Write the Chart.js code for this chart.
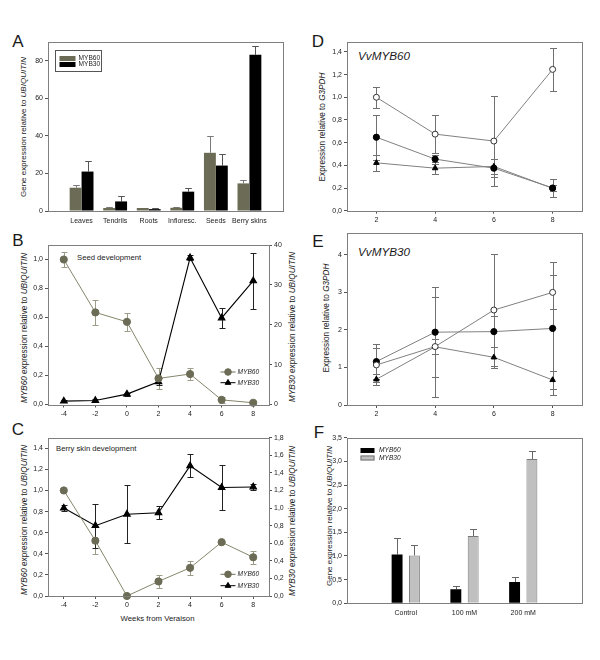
<!DOCTYPE html>
<html>
<head>
<meta charset="utf-8">
<title>MYB60 / MYB30 expression</title>
<script src="https://cdn.jsdelivr.net/npm/chart.js@4.4.1/dist/chart.umd.min.js"></script>
<style>
  body { margin: 0; background: #fff; }
  #page { position: relative; width: 600px; height: 660px; overflow: hidden; font-family: "Liberation Sans", Arial, sans-serif; color: #1a1a1a; }
  #page canvas { position: absolute; }
  .t { position: absolute; white-space: nowrap; line-height: 1; transform: translate(-50%, -50%); }
  .tl { position: absolute; white-space: nowrap; line-height: 1; transform: translate(0, -50%); }
  .letter { font-size: 17px; }
  .yt { position: absolute; white-space: nowrap; line-height: 1; font-size: 8.2px; transform: translate(-50%, -50%) rotate(-90deg); }
</style>
</head>
<body>
<div id="page">
  <!-- panel letters -->
  <div class="t letter" style="left:18px;top:41px">A</div>
  <div class="t letter" style="left:18px;top:240px">B</div>
  <div class="t letter" style="left:18px;top:429px">C</div>
  <div class="t letter" style="left:318px;top:41px">D</div>
  <div class="t letter" style="left:318px;top:241px">E</div>
  <div class="t letter" style="left:319px;top:432px">F</div>

  <!-- axis titles -->
  <div class="yt" style="left:24px;top:127px;font-size:8px">Gene expression relative to <i>UBIQUITIN</i></div>
  <div class="yt" style="left:25px;top:328px"><i>MYB60</i> expression relative to <i>UBIQUITIN</i></div>
  <div class="yt" style="left:293px;top:327px"><i>MYB30</i> expression relative to <i>UBIQUITIN</i></div>
  <div class="yt" style="left:25px;top:520px"><i>MYB60</i> expression relative to <i>UBIQUITIN</i></div>
  <div class="yt" style="left:293px;top:521px"><i>MYB30</i> expression relative to <i>UBIQUITIN</i></div>
  <div class="yt" style="left:322.5px;top:127px">Expression relative to <i>G3PDH</i></div>
  <div class="yt" style="left:327px;top:318px">Expression relative to <i>G3PDH</i></div>
  <div class="yt" style="left:330px;top:516px;font-size:8px">Gene expression relative to <i>UBIQUITIN</i></div>
  <div class="t" style="left:157.5px;top:619px;font-size:7.8px">Weeks from Veraison</div>

  <!-- notes inside plots -->
  <div class="tl" style="left:77px;top:257.7px;font-size:7.7px">Seed development</div>
  <div class="tl" style="left:56px;top:449px;font-size:7.7px">Berry skin development</div>
  <div class="tl" style="left:358px;top:55.7px;font-size:11.7px;font-style:italic">VvMYB60</div>
  <div class="tl" style="left:358px;top:251.7px;font-size:11.7px;font-style:italic">VvMYB30</div>
</div>
<script>
var FONT = '"Liberation Sans", Arial, sans-serif';
var OLIVE = '#6c6c56';

// A: tissues
var tissues = ['Leaves', 'Tendrils', 'Roots', 'Infloresc.', 'Seeds', 'Berry skins'];
var aMyb60 = [12.4, 1.6, 1.6, 1.7, 31, 14.7];
var aMyb60Err = [1.6, 0.5, 0.2, 0.4, 8.8, 1.9];
var aMyb30 = [21, 5.1, 1.0, 10.3, 24.2, 83.2];
var aMyb30Err = [5.7, 3.0, 0.4, 2.1, 6.0, 4.8];
var aTicks = [0, 20, 40, 60, 80];

// B and C: weeks from veraison
var weeks = [-4, -2, 0, 2, 4, 6, 8];
var bMyb60 = [1.0, 0.635, 0.57, 0.18, 0.21, 0.032, 0.012];
var bMyb60Err = [0.05, 0.087, 0.06, 0.07, 0.044, 0.022, 0.005];
var bMyb30 = [0.85, 1.0, 2.6, 5.7, 36.8, 21.7, 31.0];
var bMyb30Err = [0.3, 0.3, 0.4, 0.9, 0.6, 2.6, 7.1];
var bLeftTicks = [0, 0.2, 0.4, 0.6, 0.8, 1.0];
var bRightTicks = [0, 10, 20, 30, 40];

var cMyb60 = [1.0, 0.524, 0.0, 0.138, 0.267, 0.51, 0.367];
var cMyb60Err = [0, 0.13, 0, 0.062, 0.066, 0.012, 0.062];
var cMyb30 = [1.0, 0.80, 0.93, 0.947, 1.48, 1.234, 1.24];
var cMyb30Err = [0.03, 0.25, 0.33, 0.076, 0.13, 0.26, 0.033];
var cLeftTicks = [0, 0.2, 0.4, 0.6, 0.8, 1.0, 1.2, 1.4];
var cRightTicks = [0, 0.2, 0.4, 0.6, 0.8, 1.0, 1.2, 1.4, 1.6, 1.8];

// D and E: three treatments over weeks 2-8
var dWeeks = [2, 4, 6, 8];
var dOpen = [1.0, 0.675, 0.614, 1.246];
var dOpenErr = [0.093, 0.165, 0.40, 0.19];
var dFilled = [0.648, 0.455, 0.375, 0.2];
var dFilledErr = [0.2, 0.04, 0.08, 0.08];
var dTri = [0.422, 0.375, 0.39, 0.198];
var dTriErr = [0.07, 0.05, 0.065, 0.025];
var dTicks = [0, 0.2, 0.4, 0.6, 0.8, 1.0, 1.2, 1.4];

var eOpen = [1.067, 1.556, 2.53, 3.0];
var eOpenErr = [0.45, 1.33, 1.49, 0.45];
var eFilled = [1.156, 1.94, 1.955, 2.04];
var eFilledErr = [0.47, 1.2, 0.42, 1.77];
var eTri = [0.684, 1.55, 1.27, 0.667];
var eTriErr = [0.15, 0.2, 0.28, 0.23];
var eTicks = [0, 1, 2, 3, 4];

// F: salt treatment
var treatments = ['Control', '100 mM', '200 mM'];
var fMyb60 = [1.03, 0.295, 0.45];
var fMyb60Err = [0.34, 0.07, 0.105];
var fMyb30 = [1.01, 1.42, 3.05];
var fMyb30Err = [0.23, 0.15, 0.17];
var fTicks = [0, 0.5, 1.0, 1.5, 2.0, 2.5, 3.0, 3.5];

Chart.defaults.font.family = FONT;
Chart.defaults.color = '#222';
Chart.defaults.animation = false;
Chart.defaults.plugins.legend.display = false;
Chart.defaults.plugins.tooltip.enabled = false;

function fmt1(v) { return v.toFixed(1).replace('.', ','); }
function fmt0(v) { return String(v); }

function pts(xs, ys) {
    return xs.map(function (x, i) { return { x: x, y: ys[i] }; });
}

function makeCanvas(left, top, w, h) {
    var c = document.createElement('canvas');
    c.width = w; c.height = h;
    c.style.left = left + 'px'; c.style.top = top + 'px';
    c.style.width = w + 'px'; c.style.height = h + 'px';
    document.getElementById('page').appendChild(c);
    return c;
}

// value axis with a fixed width so the plot box lands where it should
function valueAxis(pos, min, max, ticks, fmt, width) {
    return {
        type: 'linear', position: pos, min: min, max: max,
        afterBuildTicks: function (axis) { axis.ticks = ticks.map(function (v) { return { value: v }; }); },
        afterFit: function (axis) { axis.width = width; },
        grid: { drawOnChartArea: false, tickLength: 3, color: '#555' },
        border: { display: false },
        ticks: { font: { size: 7 }, color: '#222', padding: 2, callback: fmt }
    };
}

// numeric x axis (weeks)
function weekAxis(min, max, ticks, height) {
    return {
        type: 'linear', position: 'bottom', min: min, max: max,
        afterBuildTicks: function (axis) { axis.ticks = ticks.map(function (v) { return { value: v }; }); },
        afterFit: function (axis) { axis.height = height; },
        grid: { drawOnChartArea: false, tickLength: 3, color: '#555' },
        border: { display: false },
        ticks: { font: { size: 7 }, color: '#222', padding: 2, autoSkip: false, maxRotation: 0, callback: fmt0 }
    };
}

// named groups on a linear axis, group i sits at i+1
function nameAxis(max, names, height) {
    return {
        type: 'linear', position: 'bottom', min: 0, max: max, offset: false,
        afterBuildTicks: function (axis) { axis.ticks = names.map(function (n, i) { return { value: i + 1 }; }); },
        afterFit: function (axis) { axis.height = height; },
        grid: { drawOnChartArea: false, drawTicks: false },
        border: { display: false },
        ticks: { font: { size: 7 }, color: '#222', padding: 5.5, autoSkip: false, maxRotation: 0,
            callback: function (v) { return names[v - 1]; } }
    };
}

// draws the error whiskers of every dataset that has an errors array
var errorBars = {
    id: 'errorBars',
    beforeDatasetsDraw: function (chart) {
        var ctx = chart.ctx;
        chart.data.datasets.forEach(function (ds, i) {
            if (!ds.errors) return;
            var meta = chart.getDatasetMeta(i);
            var ys = chart.scales[meta.yAxisID];
            var cap = ds.errCap || 3;
            ctx.save();
            ctx.strokeStyle = ds.errColor || '#666';
            ctx.lineWidth = 1;
            meta.data.forEach(function (el, j) {
                var v = ds.data[j].y, e = ds.errors[j];
                if (!e) return;
                var x = Math.round(el.x) + 0.5;
                var top = Math.round(ys.getPixelForValue(v + e)) + 0.5;
                var bot = ds.errUp ? ys.getPixelForValue(v) : Math.round(ys.getPixelForValue(v - e)) + 0.5;
                ctx.beginPath();
                ctx.moveTo(x, top); ctx.lineTo(x, bot);
                ctx.moveTo(x - cap, top); ctx.lineTo(x + cap, top);
                if (!ds.errUp) { ctx.moveTo(x - cap, bot); ctx.lineTo(x + cap, bot); }
                ctx.stroke();
            });
            ctx.restore();
        });
    }
};

// plot frame and the small legends, legend positions given in page pixels
var decor = {
    id: 'decor',
    afterDraw: function (chart, args, o) {
        var ctx = chart.ctx, a = chart.chartArea;
        var ox = o.off[0], oy = o.off[1];
        ctx.save();
        ctx.strokeStyle = '#7f7f7f';
        ctx.lineWidth = 1;
        ctx.strokeRect(Math.round(a.left) + 0.5, Math.round(a.top) + 0.5,
            Math.round(a.right) - Math.round(a.left), Math.round(a.bottom) - Math.round(a.top));
        if (o.box) {
            ctx.strokeStyle = '#555';
            ctx.strokeRect(Math.round(o.box[0] - ox) + 0.5, Math.round(o.box[1] - oy) + 0.5, o.box[2], o.box[3]);
        }
        (o.items || []).forEach(function (it) {
            var x = it.x - ox, y = it.y - oy;
            if (it.kind === 'rect') {
                ctx.fillStyle = it.color;
                ctx.fillRect(x, y - 2.5, it.w, 5);
                if (it.stroke) {
                    ctx.strokeStyle = it.stroke; ctx.lineWidth = 1;
                    ctx.strokeRect(x + 0.5, y - 2, it.w - 1, 4);
                }
            } else {
                ctx.strokeStyle = it.color; ctx.lineWidth = 1;
                ctx.beginPath(); ctx.moveTo(x, y); ctx.lineTo(x + it.w, y); ctx.stroke();
                ctx.fillStyle = it.color;
                Chart.helpers.drawPoint(ctx, { pointStyle: it.marker, radius: 3.3, rotation: 0, borderWidth: 1 }, x + it.w / 2, y);
            }
            ctx.fillStyle = '#222';
            ctx.font = (it.italic ? 'italic ' : '') + '6.6px ' + FONT;
            ctx.textBaseline = 'middle';
            ctx.textAlign = 'left';
            ctx.fillText(it.text, it.tx - ox, y);
        });
        ctx.restore();
    }
};

var base = { responsive: false, devicePixelRatio: 1 };

// ---- A ----
new Chart(makeCanvas(0, 28, 300, 200), {
    type: 'bar',
    data: { datasets: [
        { label: 'MYB60', data: pts(tissues.map(function (t, i) { return i + 1; }), aMyb60), backgroundColor: OLIVE,
          errors: aMyb60Err, errUp: true, errColor: '#7a7a7a', errCap: 3.3 },
        { label: 'MYB30', data: pts(tissues.map(function (t, i) { return i + 1; }), aMyb30), backgroundColor: '#000',
          errors: aMyb30Err, errUp: true, errColor: '#555', errCap: 3.3 }
    ] },
    options: Object.assign({}, base, {
        layout: { padding: { top: 14, right: 17 } },
        datasets: { bar: { categoryPercentage: 0.71, barPercentage: 1 } },
        scales: { x: nameAxis(7, tissues, 17), y: valueAxis('left', 0, 90, aTicks, fmt0, 48) },
        plugins: { decor: { off: [0, 28], box: [55, 49.5, 46, 21],
            items: [
                { kind: 'rect', x: 59.5, y: 58.5, w: 16, color: OLIVE, text: 'MYB60', tx: 78.5 },
                { kind: 'rect', x: 59.5, y: 64.5, w: 16, color: '#000', text: 'MYB30', tx: 78.5 }
            ] } }
    }),
    plugins: [errorBars, decor]
});

// line chart for B and C (two y axes)
function devChart(top, h, padTop, xHeight, m60, m60e, m30, m30e, lMax, lTicks, rMax, rTicks, rFmt, legendY) {
    new Chart(makeCanvas(0, top, 300, h), {
        type: 'line',
        data: { datasets: [
            { label: 'MYB60', data: pts(weeks, m60), yAxisID: 'y', borderColor: '#85856b', borderWidth: 1,
              pointStyle: 'circle', pointRadius: 3.6, pointBackgroundColor: OLIVE, pointBorderColor: OLIVE,
              clip: false, errors: m60e, errColor: '#9c9c88' },
            { label: 'MYB30', data: pts(weeks, m30), yAxisID: 'y1', borderColor: '#000', borderWidth: 1.1,
              pointStyle: 'triangle', pointRadius: 3.8, pointBackgroundColor: '#000', pointBorderColor: '#000',
              clip: false, errors: m30e, errColor: '#222' }
        ] },
        options: Object.assign({}, base, {
            layout: { padding: { top: padTop } },
            scales: {
                x: weekAxis(-5, 9, weeks, xHeight),
                y: valueAxis('left', 0, lMax, lTicks, fmt1, 48),
                y1: valueAxis('right', 0, rMax, rTicks, rFmt, 31)
            },
            plugins: { decor: { off: [0, top],
                items: [
                    { kind: 'line', marker: 'circle', x: 220.5, y: legendY[0], w: 15, color: OLIVE, text: 'MYB60', tx: 237.5, italic: true },
                    { kind: 'line', marker: 'triangle', x: 220.5, y: legendY[1], w: 15, color: '#000', text: 'MYB30', tx: 237.5, italic: true }
                ] } }
        }),
        plugins: [errorBars, decor]
    });
}

// ---- B ----
devChart(230, 192, 15, 17.5, bMyb60, bMyb60Err, bMyb30, bMyb30Err, 1.1, bLeftTicks, 40, bRightTicks, fmt0, [372, 382.7]);
// ---- C ----
devChart(422, 210, 15.7, 36, cMyb60, cMyb60Err, cMyb30, cMyb30Err, 1.5, cLeftTicks, 1.8, cRightTicks, fmt1, [574.3, 585.7]);

// line chart for D and E (three series)
function vvChart(top, h, padTop, xHeight, op, ope, fi, fie, tr, tre, yMax, yTicks, yFmt) {
    new Chart(makeCanvas(300, top, 300, h), {
        type: 'line',
        data: { datasets: [
            { data: pts(dWeeks, op), borderColor: '#808080', borderWidth: 1, pointStyle: 'circle', pointRadius: 3,
              pointBackgroundColor: '#fff', pointBorderColor: '#333', clip: false, errors: ope, errColor: '#707070', errCap: 3.5 },
            { data: pts(dWeeks, fi), borderColor: '#808080', borderWidth: 1, pointStyle: 'circle', pointRadius: 3.1,
              pointBackgroundColor: '#000', pointBorderColor: '#000', clip: false, errors: fie, errColor: '#707070', errCap: 3.5 },
            { data: pts(dWeeks, tr), borderColor: '#808080', borderWidth: 1, pointStyle: 'triangle', pointRadius: 3.2,
              pointBackgroundColor: '#000', pointBorderColor: '#000', clip: false, errors: tre, errColor: '#707070', errCap: 3.5 }
        ] },
        options: Object.assign({}, base, {
            layout: { padding: { top: padTop, right: 18 } },
            scales: { x: weekAxis(1, 9, dWeeks, xHeight), y: valueAxis('left', 0, yMax, yTicks, yFmt, 47) },
            plugins: { decor: { off: [300, top] } }
        }),
        plugins: [errorBars, decor]
    });
}

// ---- D ----
vvChart(28, 200, 13.7, 17.3, dOpen, dOpenErr, dFilled, dFilledErr, dTri, dTriErr, 1.49, dTicks, fmt1);
// ---- E ----
vvChart(222, 202, 10.7, 19, eOpen, eOpenErr, eFilled, eFilledErr, eTri, eTriErr, 4.59, eTicks, fmt0);

// ---- F ----
new Chart(makeCanvas(300, 424, 300, 200), {
    type: 'bar',
    data: { datasets: [
        { label: 'MYB60', data: pts(treatments.map(function (t, i) { return i + 1; }), fMyb60), backgroundColor: '#000',
          errors: fMyb60Err, errUp: true, errColor: '#666', errCap: 3.5 },
        { label: 'MYB30', data: pts(treatments.map(function (t, i) { return i + 1; }), fMyb30), backgroundColor: '#c0c0c0',
          borderColor: '#777', borderWidth: 1, errors: fMyb30Err, errUp: true, errColor: '#666', errCap: 3.5 }
    ] },
    options: Object.assign({}, base, {
        layout: { padding: { top: 13.7, right: 18 } },
        datasets: { bar: { categoryPercentage: 0.59, barPercentage: 0.63 } },
        scales: { x: nameAxis(4, treatments, 20.7), y: valueAxis('left', 0, 3.5, fTicks, fmt1, 47) },
        plugins: { decor: { off: [300, 424],
            items: [
                { kind: 'rect', x: 360.5, y: 450.5, w: 14, color: '#000', text: 'MYB60', tx: 379, italic: true },
                { kind: 'rect', x: 360.5, y: 458, w: 14, color: '#c0c0c0', stroke: '#777', text: 'MYB30', tx: 379, italic: true }
            ] } }
    }),
    plugins: [errorBars, decor]
});
</script>
</body>
</html>
